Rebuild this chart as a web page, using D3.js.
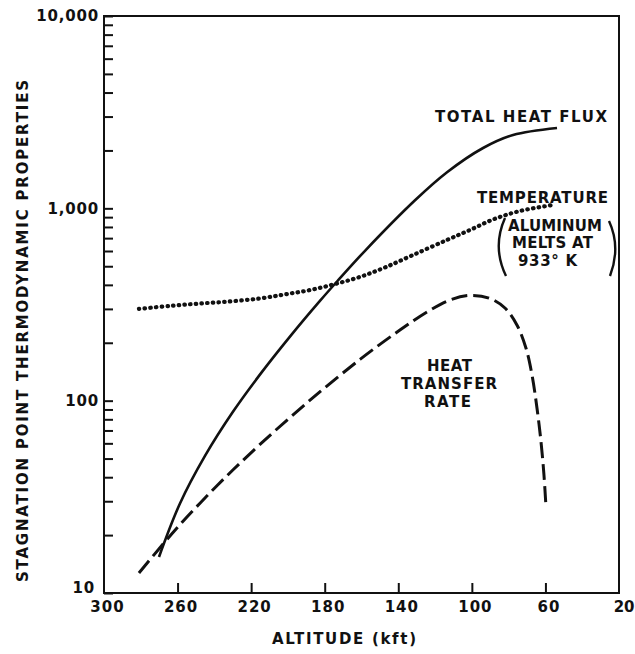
<!DOCTYPE html>
<html>
<head>
<meta charset="utf-8">
<script src="https://cdn.jsdelivr.net/npm/d3@7"></script>
<style>
  html, body { margin: 0; padding: 0; background: #fff; }
  svg text { font-family: "DejaVu Sans", "Liberation Sans", sans-serif; font-weight: bold; fill: #111; }
</style>
</head>
<body>
<svg id="chart" width="635" height="654"></svg>
<script>
// Altitude (kft) and value pairs for each property curve
const totalHeatFluxAlt = [270.1, 258.7, 245.1, 229.9, 214.1, 198.9, 182.6, 173.3, 158.1, 130.9, 113.5, 93.9, 77.6, 53.7];
const totalHeatFluxVal = [15.4, 29.2, 51.6, 87.5, 141.1, 215.4, 330.2, 416.5, 601.5, 1101, 1540, 2059, 2406, 2617];

const temperatureAlt = [281.0, 264.1, 247.8, 231.5, 215.2, 201.6, 188.0, 174.4, 160.8, 147.2, 132.0, 113.5, 101.0, 88.5, 73.8, 55.9];
const temperatureVal = [300, 311, 320, 328, 340, 357, 376, 404, 440, 493, 572, 685, 772, 875, 969, 1041];

const heatTransferAlt = [281.0, 261.4, 238.6, 215.2, 188.0, 160.8, 139.1, 122.8, 111.9, 101.0, 90.1, 82.0, 75.5, 70.6, 67.3, 64.6, 62.4, 60.8, 59.7];
const heatTransferVal = [12.7, 21.2, 36.1, 59.2, 100.6, 163.9, 233.0, 295.4, 333.8, 352.6, 339.8, 303.2, 247.4, 187.8, 136.0, 91.6, 61.0, 41.1, 28.0];

// Axis ticks
const altitudeTicks = [300, 260, 220, 180, 140, 100, 60, 20];
const valueTicks = [10, 100, 1000, 10000];

const svg = d3.select("#chart");
const plotLeft = 104, plotRight = 619, plotTop = 16, plotBottom = 593;

const x = d3.scaleLinear().domain([300, 20]).range([plotLeft, plotRight]);
const y = d3.scaleLog().domain([10, 10000]).range([plotBottom, plotTop]);

// Frame
svg.append("rect")
  .attr("x", plotLeft).attr("y", plotTop)
  .attr("width", plotRight - plotLeft).attr("height", plotBottom - plotTop)
  .attr("fill", "none").attr("stroke", "#111").attr("stroke-width", 2);

// Minor log ticks
const minorTicks = [];
[10, 100, 1000].forEach(d => { for (let k = 2; k <= 9; k++) minorTicks.push(d * k); });

const yMinor = svg.append("g").attr("transform", `translate(${plotLeft},0)`)
  .call(d3.axisLeft(y).tickValues(minorTicks).tickSize(-9).tickFormat(""));
yMinor.select(".domain").remove();
yMinor.selectAll("line").attr("stroke", "#111").attr("stroke-width", 2);

const yAxis = svg.append("g").attr("transform", `translate(${plotLeft},0)`)
  .call(d3.axisLeft(y).tickValues(valueTicks).tickSize(-9).tickPadding(5).tickFormat(d3.format(",")));
yAxis.select(".domain").remove();
yAxis.selectAll("line").attr("stroke", "#111").attr("stroke-width", 2);
yAxis.selectAll("text")
  .style("font-size", "15px").style("letter-spacing", "0.8px")
  .attr("fill", "#111");
yAxis.selectAll(".tick").filter(d => d === 10).select("text")
  .attr("x", -9).attr("dy", "-0.05em");

const xAxis = svg.append("g").attr("transform", `translate(0,${plotBottom})`)
  .call(d3.axisBottom(x).tickValues(altitudeTicks).tickSize(-10).tickPadding(8).tickFormat(d3.format("d")));
xAxis.select(".domain").remove();
xAxis.selectAll("line").attr("stroke", "#111").attr("stroke-width", 2)
  .filter(d => d === 300 || d === 20).remove();
xAxis.selectAll("text")
  .style("font-size", "15px").style("letter-spacing", "1px")
  .attr("fill", "#111").attr("dx", 3);
xAxis.selectAll(".tick").filter(d => d === 20).select("text")
  .attr("text-anchor", "end").attr("dx", 0).attr("x", 15)
  .style("letter-spacing", "0px");

// Axis titles
svg.append("text")
  .attr("transform", `translate(28,331) rotate(-90)`)
  .attr("text-anchor", "middle")
  .attr("textLength", 502).attr("lengthAdjust", "spacing")
  .style("font-size", "15px")
  .text("STAGNATION POINT THERMODYNAMIC PROPERTIES");

svg.append("text")
  .attr("x", 272).attr("y", 644)
  .attr("textLength", 144).attr("lengthAdjust", "spacing")
  .style("font-size", "15px")
  .text("ALTITUDE (kft)");

// Curves
const line = d3.line()
  .x(d => x(d[0])).y(d => y(d[1]))
  .curve(d3.curveCatmullRom.alpha(0.5));

const zip = (a, b) => a.map((v, i) => [v, b[i]]);

svg.append("path")
  .datum(zip(totalHeatFluxAlt, totalHeatFluxVal))
  .attr("d", line)
  .attr("fill", "none").attr("stroke", "#111").attr("stroke-width", 2.6);

svg.append("path")
  .datum(zip(temperatureAlt, temperatureVal))
  .attr("d", line)
  .attr("fill", "none").attr("stroke", "#111").attr("stroke-width", 4.2)
  .attr("stroke-linecap", "round").attr("stroke-dasharray", "0.5 5.2");

svg.append("path")
  .datum(zip(heatTransferAlt, heatTransferVal))
  .attr("d", line)
  .attr("fill", "none").attr("stroke", "#111").attr("stroke-width", 3)
  .attr("stroke-dasharray", "16 6");

// Curve labels
function label(txt, xPos, yPos, len) {
  svg.append("text")
    .attr("x", xPos).attr("y", yPos)
    .attr("textLength", len).attr("lengthAdjust", "spacing")
    .style("font-size", "15px")
    .text(txt);
}
label("TOTAL HEAT FLUX", 435, 122, 172);
label("TEMPERATURE", 477, 203, 131);
label("ALUMINUM", 508, 231, 94);
label("MELTS AT", 512, 248, 81);
label("933° K", 518, 266, 59);
label("HEAT", 427, 371, 45);
label("TRANSFER", 401, 389, 96);
label("RATE", 424, 407, 47);

// Parentheses around the aluminium note
svg.append("path")
  .attr("d", "M505,218 Q492,247 506,276")
  .attr("fill", "none").attr("stroke", "#111").attr("stroke-width", 2.4);
svg.append("path")
  .attr("d", "M609,221 Q621,247 610,276")
  .attr("fill", "none").attr("stroke", "#111").attr("stroke-width", 2.4);
</script>
</body>
</html>
